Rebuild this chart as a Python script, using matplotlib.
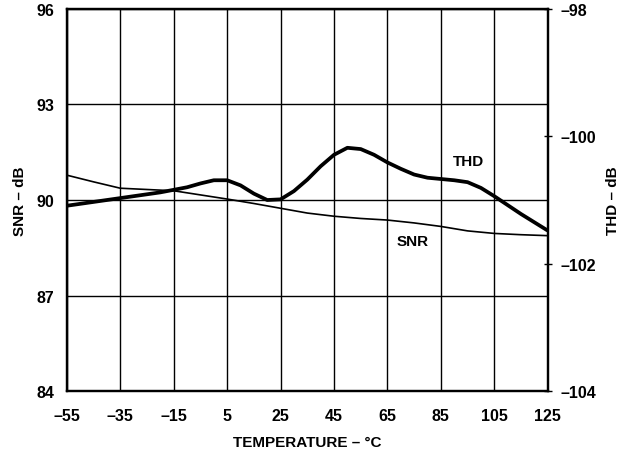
import matplotlib
matplotlib.use("Agg")
from matplotlib import pyplot as plt

plt.rcParams['font.family'] = ['Liberation Sans', 'DejaVu Sans']
plt.rcParams['font.weight'] = 'bold'

# SNR (left axis) vs temperature
snr_temp = [-55, -45, -35, -25, -15, -5, 5, 15, 25, 35, 45, 55, 65, 75, 85, 95, 105, 115, 125]
snr_db = [90.78, 90.57, 90.37, 90.33, 90.29, 90.16, 90.03, 89.89, 89.74, 89.59,
          89.49, 89.42, 89.37, 89.28, 89.17, 89.03, 88.95, 88.91, 88.88]

# THD (right axis) vs temperature
thd_temp = [-55, -50, -45, -40, -35, -30, -25, -20, -15, -10, -5, 0, 5, 10, 15, 20, 25,
            30, 35, 40, 45, 50, 55, 60, 65, 70, 75, 80, 85, 90, 95, 100, 105, 110, 115, 120, 125]
thd_db = [-101.09, -101.06, -101.03, -101.00, -100.97, -100.94, -100.91, -100.88, -100.84,
          -100.80, -100.74, -100.69, -100.69, -100.77, -100.90, -101.00, -100.99, -100.86,
          -100.68, -100.47, -100.29, -100.18, -100.20, -100.29, -100.41, -100.51, -100.60,
          -100.65, -100.67, -100.69, -100.72, -100.81, -100.94, -101.08, -101.22, -101.35, -101.48]

x_ticks = [-55, -35, -15, 5, 25, 45, 65, 85, 105, 125]
snr_ticks = [84, 87, 90, 93, 96]
thd_ticks = [-98, -100, -102, -104]

fig = plt.figure(figsize=(6.31, 4.52), dpi=100)
ax = fig.add_axes([0.106, 0.1327, 0.762, 0.8452])

ax.plot(snr_temp, snr_db, color="black", linewidth=1.2, zorder=3,
        solid_joinstyle='round')
ax.set_xlim(-55, 125)
ax.set_ylim(84, 96)
ax.set_xticks(x_ticks)
ax.set_yticks(snr_ticks)
ax.tick_params(axis='both', length=0, labelsize=11.5)
ax.tick_params(axis='x', pad=12)
ax.tick_params(axis='y', pad=9)
ax.grid(color="black", linewidth=1.0)
for s in ax.spines.values():
    s.set_linewidth(1.6)
ax.set_xlabel("TEMPERATURE – °C", fontsize=11, fontweight='bold', labelpad=9)
ax.set_ylabel("SNR – dB", fontsize=11, fontweight='bold', labelpad=7)

ax.text(95.2, 91.23, "THD", fontsize=11, fontweight='bold', ha='center', va='center')
ax.text(74.6, 88.72, "SNR", fontsize=11, fontweight='bold', ha='center', va='center')

ax2 = ax.twinx()
ax2.plot(thd_temp, thd_db, color="black", linewidth=2.7, zorder=3,
         solid_joinstyle='round', solid_capstyle='butt')
ax2.set_ylim(-104, -98)
ax2.set_yticks(thd_ticks)
ax2.set_yticklabels(["–98", "–100", "–102", "–104"])
ax2.tick_params(axis='y', direction='inout', length=6, width=1, labelsize=11.5, pad=6)
for s in ax2.spines.values():
    s.set_linewidth(1.6)
ax2.set_ylabel("THD – dB", fontsize=11, fontweight='bold', labelpad=7)

ax.set_xticklabels(["–55", "–35", "–15", "5", "25", "45", "65", "85", "105", "125"])

plt.savefig("out.png", dpi=100)
